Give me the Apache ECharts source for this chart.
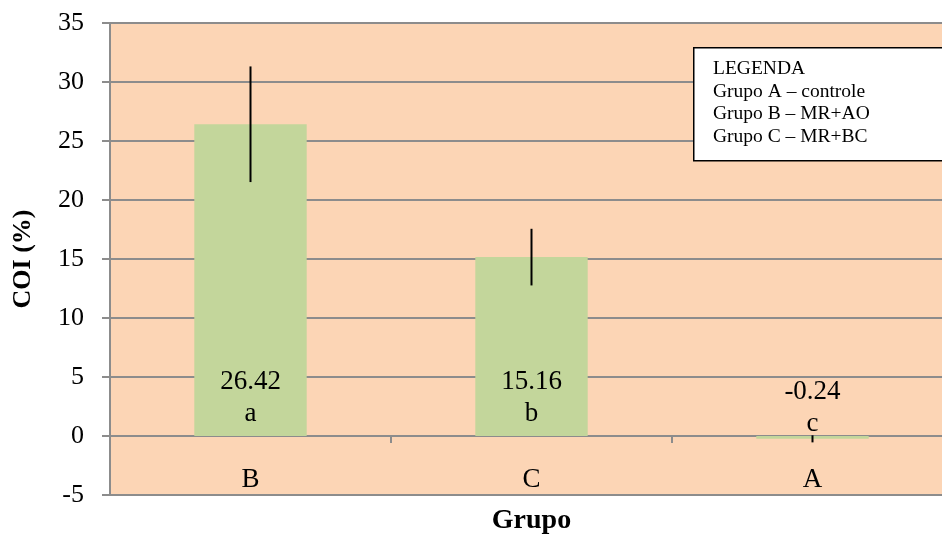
<!DOCTYPE html>
<html><head><meta charset="utf-8">
<script src="https://cdn.jsdelivr.net/npm/echarts@6/dist/echarts.min.js"></script>
<style>html,body{margin:0;padding:0;background:#fff}#c{width:942px;height:540px}</style>
</head><body><div id="c"></div>
<script>
const categories = ['B', 'C', 'A'];
const means = [26.42, 15.16, -0.24];
const errors = [4.9, 2.4, 0.3];
const letters = ['a', 'b', 'c'];
const yTicks = {min: -5, max: 35, interval: 5};
const legendLines = ['LEGENDA', 'Grupo A – controle', 'Grupo B – MR+AO', 'Grupo C – MR+BC'];

const font = 'Liberation Serif, Times New Roman, serif';
const chart = echarts.init(document.getElementById('c'));
const gridColor = '#8c8c8c';

chart.setOption({
  backgroundColor: '#ffffff',
  animation: false,
  grid: {left: 110, top: 23, width: 843, height: 472, outerBoundsMode: 'none', containLabel: false,
    show: true, backgroundColor: '#FCD5B5', borderWidth: 0},
  xAxis: {
    type: 'category', data: categories,
    axisLine: {onZero: true, lineStyle: {color: gridColor, width: 2}},
    axisTick: {show: true, length: 7, lineStyle: {color: gridColor, width: 2}},
    axisLabel: {color: '#000', fontFamily: font, fontSize: 27, margin: -29},
    name: 'Grupo', nameLocation: 'middle', nameGap: 12,
    nameTextStyle: {color: '#000', fontFamily: font, fontSize: 28, fontWeight: 'bold'}
  },
  yAxis: {
    type: 'value', min: yTicks.min, max: yTicks.max, interval: yTicks.interval,
    axisLine: {show: true, lineStyle: {color: gridColor, width: 2}},
    axisTick: {show: true, length: 8, lineStyle: {color: gridColor, width: 2}},
    splitLine: {show: true, lineStyle: {color: gridColor, width: 2}},
    axisLabel: {color: '#000', fontFamily: font, fontSize: 26, margin: 26},
    name: 'COI (%)', nameLocation: 'middle', nameGap: 74, nameRotate: 90,
    nameTextStyle: {color: '#000', fontFamily: font, fontSize: 26, fontWeight: 'bold'}
  },
  series: [
    {
      type: 'bar', data: means, barWidth: '40%',
      itemStyle: {color: '#C3D69B'}, z: 3
    },
    {
      type: 'custom', z: 5,
      data: means.map((m, i) => [i, m, errors[i]]),
      renderItem: function (params, api) {
        const i = api.value(0), m = api.value(1), e = api.value(2);
        const top = api.coord([i, m + e]);
        const bot = api.coord([i, m - e]);
        const zero = api.coord([i, 0]);
        const idx = params.dataIndex;
        const children = [
          {type: 'line', shape: {x1: top[0], y1: top[1], x2: bot[0], y2: bot[1]}, style: {stroke: '#000', lineWidth: 2}},
          {type: 'text', x: zero[0], y: zero[1] - (m < 0 ? -4 : 6),
            style: {text: means[idx].toFixed(2) + '\n' + letters[idx],
              fill: '#000', font: '27px ' + font, align: 'center', verticalAlign: 'bottom', lineHeight: 32}}
        ];
        return {type: 'group', children: children};
      }
    }
  ],
  graphic: [
    {type: 'rect', left: 693, top: 47, shape: {width: 270, height: 113}, style: {fill: '#fff', stroke: '#000', lineWidth: 1.5}, z: 10},
    {type: 'text', left: 713, top: 58, z: 11,
      style: {text: legendLines.join('\n'), fill: '#000', font: '19.5px ' + font, lineHeight: 22.5}}
  ]
});
</script>
</body></html>
